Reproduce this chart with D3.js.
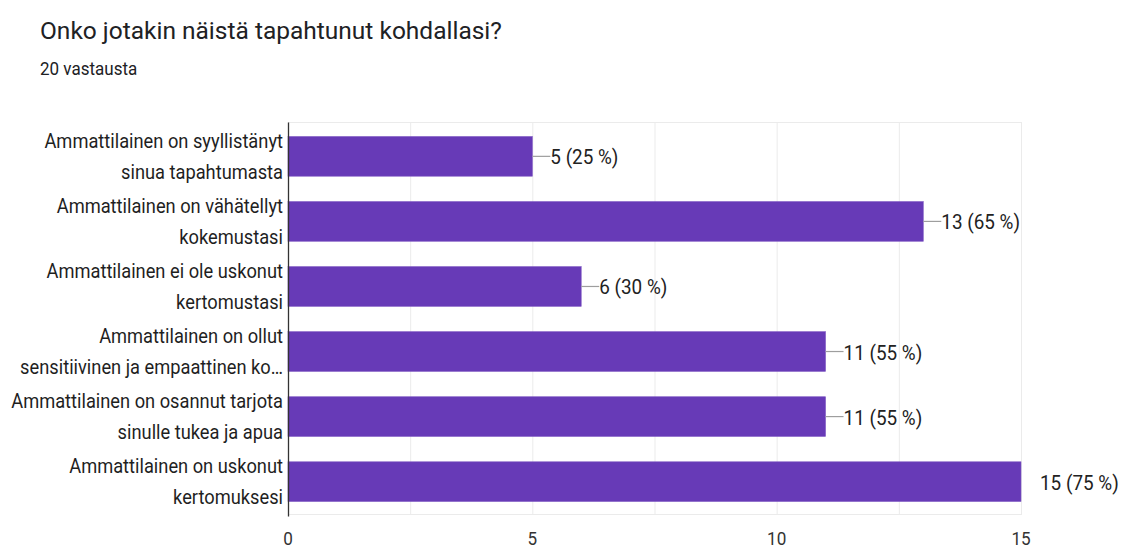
<!DOCTYPE html>
<html>
<head>
<meta charset="utf-8">
<script src="https://cdn.jsdelivr.net/npm/d3@7"></script>
<style>
  body { margin: 0; background: #fff; }
  text { font-family: Roboto, "Noto Sans", sans-serif; }
</style>
</head>
<body>
<div id="vizcontainer"></div>
<script>
const title = 'Onko jotakin näistä tapahtunut kohdallasi?';
const subtitle = '20 vastausta';

// category labels as shown (wrapped into two lines)
const categories = [
  ['Ammattilainen on syyllistänyt', 'sinua tapahtumasta'],
  ['Ammattilainen on vähätellyt', 'kokemustasi'],
  ['Ammattilainen ei ole uskonut', 'kertomustasi'],
  ['Ammattilainen on ollut', 'sensitiivinen ja empaattinen ko…'],
  ['Ammattilainen on osannut tarjota', 'sinulle tukea ja apua'],
  ['Ammattilainen on uskonut', 'kertomuksesi']
];
const counts = [5, 13, 6, 11, 11, 15];
const percents = [25, 65, 30, 55, 55, 75];
const ticks = [0, 5, 10, 15];
const gridTicks = [0, 2.5, 5, 7.5, 10, 12.5, 15];

const width = 1121,
  height = 548;
const plotLeft = 288, plotRight = 1021, plotTop = 122.5, plotBottom = 514.5;
const narrow = 0.87; // the screenshot text is squeezed horizontally

let viz = d3.select('#vizcontainer')
  .append('svg')
  .attr('width', width)
  .attr('height', height);

// text helper: squeezed text placed at (px, py)
function squeezed(parent, px, py, sx) {
  return parent.append('g')
    .attr('transform', `translate(${px},${py}) scale(${sx},1)`)
    .append('text');
}

squeezed(viz, 40, 39, 1)
  .attr('fill', '#202124')
  .style('font-size', '24.5px')
  .text(title);

squeezed(viz, 40, 75, 0.92)
  .attr('fill', '#202124')
  .style('font-size', '18.5px')
  .text(subtitle);

const x = d3.scaleLinear()
  .domain([0, 15])
  .range([plotLeft, plotRight]);

const y = d3.scaleBand()
  .domain(d3.range(categories.length))
  .range([plotTop + 1, plotBottom])
  .paddingInner(0.39)
  .paddingOuter(0.2);

// gridlines
viz.append('g')
  .selectAll('line')
  .data(gridTicks)
  .join('line')
  .attr('x1', d => x(d) + 0.5).attr('x2', d => x(d) + 0.5)
  .attr('y1', plotTop).attr('y2', plotBottom)
  .attr('stroke', '#ebebeb');

viz.append('line')
  .attr('x1', plotLeft).attr('x2', plotRight + 1)
  .attr('y1', plotTop).attr('y2', plotTop)
  .attr('stroke', '#ebebeb');
viz.append('line')
  .attr('x1', plotLeft).attr('x2', plotRight + 1)
  .attr('y1', plotBottom).attr('y2', plotBottom)
  .attr('stroke', '#ebebeb');

// bars
viz.selectAll('rect.bar')
  .data(counts)
  .join('rect')
  .attr('class', 'bar')
  .attr('x', x(0))
  .attr('y', (d, i) => y(i))
  .attr('width', d => x(d) - x(0))
  .attr('height', y.bandwidth())
  .attr('fill', '#673ab7')
  .attr('stroke', '#7e57c2')
  .attr('stroke-width', 0.6);

// value labels with leader lines
const lab = viz.append('g');
counts.forEach((d, i) => {
  const cy = y(i) + y.bandwidth() / 2;
  const last = d === d3.max(counts);
  if (!last) {
    lab.append('line')
      .attr('x1', x(d)).attr('x2', x(d) + 18)
      .attr('y1', cy).attr('y2', cy)
      .attr('stroke', '#9e9e9e').attr('stroke-width', 1.2);
  }
  squeezed(lab, x(d) + (last ? 19 : 18), cy + 8, 0.9)
    .attr('fill', '#222')
    .style('font-size', '21px')
    .text(`${d} (${percents[i]} %)`);
});

// axis line
viz.append('line')
  .attr('x1', plotLeft + 0.5).attr('x2', plotLeft + 0.5)
  .attr('y1', plotTop).attr('y2', plotBottom + 2)
  .attr('stroke', '#333').attr('stroke-width', 1.3);

// category labels
const cat = viz.append('g');
categories.forEach((lines, i) => {
  const cy = y(i) + y.bandwidth() / 2;
  lines.forEach((s, j) => {
    squeezed(cat, 283, cy - 8.5 + j * 31, narrow)
      .attr('text-anchor', 'end')
      .attr('fill', '#1f1f1f')
      .style('font-size', '21px')
      .text(s);
  });
});

// x tick labels
const tk = viz.append('g');
ticks.forEach(d => {
  squeezed(tk, x(d), 545, 0.9)
    .attr('text-anchor', 'middle')
    .attr('fill', '#333')
    .style('font-size', '19px')
    .text(d);
});
</script>
</body>
</html>
